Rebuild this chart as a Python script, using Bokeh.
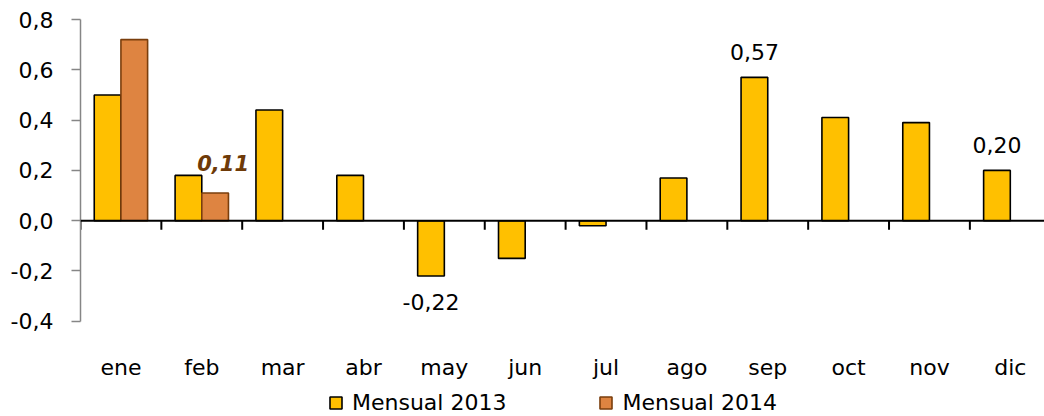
from bokeh.plotting import figure
from bokeh.models import (Range1d, FixedTicker, CustomJSTickFormatter, Span,
                          ColumnDataSource, Legend, LegendItem)
from bokeh.core.properties import value
from bokeh.embed import file_html
from bokeh.resources import INLINE

months = ["ene", "feb", "mar", "abr", "may", "jun", "jul", "ago", "sep", "oct", "nov", "dic"]
mensual_2013 = [0.50, 0.18, 0.44, 0.18, -0.22, -0.15, -0.02, 0.17, 0.57, 0.41, 0.39, 0.20]
mensual_2014 = [0.72, 0.11]
y_ticks = [-0.4, -0.2, 0.0, 0.2, 0.4, 0.6, 0.8]
labelled_2013 = ["may", "sep", "dic"]
labelled_2014 = ["feb"]

FONT = "DejaVu Sans"
C2013 = "#FFC000"
C2014 = "#DE8441"
E2014 = "#7A3E0C"

Y_MIN, Y_MAX = -0.4, 0.8          # visible value axis
Y_FRAME_MIN = -0.7787             # frame extended downward for labels + legend
LABEL_Y = -0.584                  # month label row

bw = 0.33
x13 = [i + 0.5 - bw / 2 for i in range(len(months))]
x14 = [i + 0.5 + bw / 2 for i in range(len(mensual_2014))]

p = figure(frame_width=964, frame_height=397, output_backend="svg", toolbar_location=None,
           x_range=Range1d(0, 11.923), y_range=Range1d(Y_FRAME_MIN, Y_MAX),
           x_axis_location=None,
           min_border_left=80, min_border_right=0, min_border_top=19,
           min_border_bottom=0)
p.outline_line_color = None
p.xgrid.visible = False
p.ygrid.visible = False
p.background_fill_color = "white"
p.border_fill_color = "white"

src13 = ColumnDataSource(dict(x=x13, top=mensual_2013))
src14 = ColumnDataSource(dict(x=x14, top=mensual_2014))
r13 = p.vbar(x="x", top="top", bottom=0, width=bw, source=src13,
             fill_color=C2013, line_color="black", line_width=1.6)
r14 = p.vbar(x="x", top="top", bottom=0, width=bw, source=src14,
             fill_color=C2014, line_color=E2014, line_width=1.6)

# zero line and category tick marks
p.add_layout(Span(location=0, dimension="width", line_color="black", line_width=2))
bx = list(range(len(months)))
p.segment(x0=bx, y0=[0] * len(bx), x1=bx, y1=[-0.036] * len(bx),
          line_color="black", line_width=2)

# category labels
p.text(x=[i + 0.5 for i in range(len(months))], y=[LABEL_Y] * len(months), text=months,
       text_font=value(FONT), text_font_size="22px", text_color="black",
       text_align="center", text_baseline="middle")

# data labels
def fmt(v):
    return ("%.2f" % v).replace(".", ",")

lx, ly, lt, loff = [], [], [], []
for m in labelled_2013:
    i = months.index(m)
    v = mensual_2013[i]
    lx.append(x13[i]); ly.append(v); lt.append(fmt(v))
    loff.append(-25 if v >= 0 else 26)
p.text(x="x", y="y", text="t", y_offset="o",
       source=ColumnDataSource(dict(x=lx, y=ly, t=lt, o=loff)),
       text_font=value(FONT), text_font_size="22px", text_color="black",
       text_align="center", text_baseline="middle")

bx2, by2, bt2 = [], [], []
for m in labelled_2014:
    i = months.index(m)
    v = mensual_2014[i]
    bx2.append(x14[i]); by2.append(v); bt2.append(fmt(v))
p.text(x="x", y="y", text="t", source=ColumnDataSource(dict(x=bx2, y=by2, t=bt2)),
       x_offset=8, y_offset=-30,
       text_font=value(FONT), text_font_size="21px", text_font_style="bold italic",
       text_color="#6E3A08", text_align="center", text_baseline="middle")

# y axis
ya = p.yaxis[0]
ya.ticker = FixedTicker(ticks=y_ticks)
ya.bounds = (Y_MIN, Y_MAX)
ya.formatter = CustomJSTickFormatter(code="return tick.toFixed(1).replace('.', ',');")
ya.axis_line_color = "#868686"
ya.axis_line_width = 1.5
ya.major_tick_line_color = "#868686"
ya.major_tick_line_width = 1.5
ya.major_tick_out = 9
ya.major_tick_in = 0
ya.minor_tick_line_color = None
ya.major_label_standoff = 18
ya.major_label_text_font = FONT
ya.major_label_text_font_size = "22px"
ya.major_label_text_color = "black"

legend = Legend(items=[LegendItem(label="Mensual 2013", renderers=[r13]),
                       LegendItem(label="Mensual 2014", renderers=[r14])],
                orientation="horizontal", location=(248, 1))
legend.label_text_font = FONT
legend.label_text_font_size = "22px"
legend.label_text_color = "black"
legend.glyph_width = 15
legend.glyph_height = 15
legend.label_standoff = 9
legend.spacing = 92
legend.padding = 0
legend.margin = 0
legend.border_line_color = None
legend.background_fill_alpha = 0
p.add_layout(legend, "center")

open("out.html", "w").write(file_html(p, INLINE))
